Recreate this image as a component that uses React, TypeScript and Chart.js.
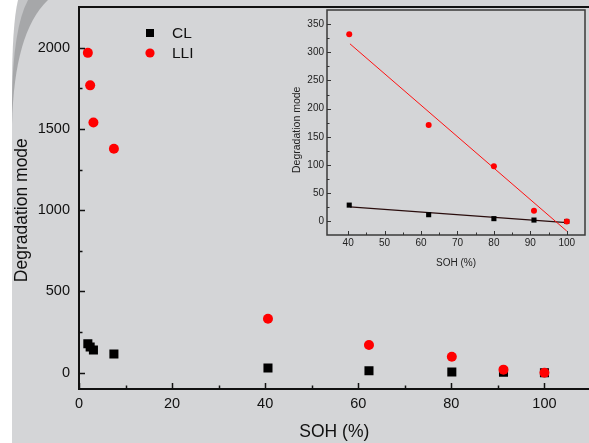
import React, { useEffect, useRef } from 'react';
import { Chart, registerables } from 'chart.js';

Chart.register(...registerables);

// ---- data ----
const soh = [1.9, 2.4, 3.1, 7.5, 40.6, 62.3, 80.1, 91.2, 100];
const clValues = [178, 158, 140, 115, 29, 12, 5, 3, 0];
const lliValues = [1968, 1768, 1540, 1378, 332, 171, 98, 19, 0];

const insetSoh = [40.3, 62.1, 80.0, 91.0, 100];
const insetCl = [29, 12, 5, 2.5, 0];
const insetLli = [332, 171, 98, 19, 0];

const fitSoh = [40.5, 100];
const fitCl = [26, -2];
const fitLli = [315, -17];

const mainXTicks = [0, 20, 40, 60, 80, 100];
const mainYTicks = [0, 500, 1000, 1500, 2000];
const insetXTicks = [40, 50, 60, 70, 80, 90, 100];
const insetYTicks = [0, 50, 100, 150, 200, 250, 300, 350];

const FONT = "'Liberation Sans', Arial, sans-serif";
const BG = '#d4d5d7';

const pts = (xs: number[], ys: number[]) => xs.map((x, i) => ({ x, y: ys[i] }));

const noPad = (s: any) => {
  s.paddingTop = 0;
  s.paddingBottom = 0;
  s.paddingLeft = 0;
  s.paddingRight = 0;
};

const innerTicks = (cfg: { major: number; minor: number; width: number; color: string }) => ({
  id: 'innerTicks',
  afterDraw(chart: any) {
    const { ctx, chartArea } = chart;
    ctx.save();
    ctx.strokeStyle = cfg.color;
    ctx.lineWidth = cfg.width;
    const draw = (scale: any, horizontal: boolean) => {
      const vals = scale.ticks.map((t: any) => t.value);
      const minors: number[] = [];
      for (let i = 0; i < vals.length - 1; i++) minors.push((vals[i] + vals[i + 1]) / 2);
      const seg = (v: number, len: number) => {
        const p = Math.round(scale.getPixelForValue(v)) + 0.5;
        ctx.beginPath();
        if (horizontal) {
          ctx.moveTo(p, chartArea.bottom);
          ctx.lineTo(p, chartArea.bottom - len);
        } else {
          ctx.moveTo(chartArea.left, p);
          ctx.lineTo(chartArea.left + len, p);
        }
        ctx.stroke();
      };
      vals.forEach((v: number) => seg(v, cfg.major));
      minors.forEach((v) => seg(v, cfg.minor));
    };
    draw(chart.scales.x, true);
    draw(chart.scales.y, false);
    ctx.restore();
  },
});

const background = {
  id: 'slideBackground',
  beforeDraw(chart: any) {
    const { ctx, width: w, height: h } = chart;
    ctx.save();
    ctx.fillStyle = '#ffffff';
    ctx.fillRect(0, 0, w, h);
    ctx.fillStyle = '#c4c5c7';
    ctx.beginPath();
    ctx.moveTo(18, 0);
    ctx.quadraticCurveTo(12, 25, 12, 90);
    ctx.lineTo(12, h);
    ctx.lineTo(w, h);
    ctx.lineTo(w, 0);
    ctx.closePath();
    ctx.fill();
    ctx.fillStyle = '#a6a7a9';
    ctx.beginPath();
    ctx.moveTo(28, 0);
    ctx.quadraticCurveTo(13, 28, 12, 100);
    ctx.lineTo(12, h);
    ctx.lineTo(w, h);
    ctx.lineTo(w, 0);
    ctx.closePath();
    ctx.fill();
    ctx.fillStyle = BG;
    ctx.beginPath();
    ctx.moveTo(48, 0);
    ctx.quadraticCurveTo(14, 32, 12, 125);
    ctx.lineTo(12, h);
    ctx.lineTo(w, h);
    ctx.lineTo(w, 0);
    ctx.closePath();
    ctx.fill();
    ctx.restore();
  },
};

const topBorder = {
  id: 'topBorderLine',
  afterDraw(chart: any) {
    const { ctx, chartArea } = chart;
    ctx.save();
    ctx.fillStyle = '#111111';
    ctx.fillRect(chartArea.left - 1, Math.round(chartArea.top) - 1, chartArea.right - chartArea.left + 1, 2);
    ctx.restore();
  },
};

const customLegend = {
  id: 'customLegend',
  afterDraw(chart: any) {
    const { ctx } = chart;
    const x0 = 150;
    const y0 = 33;
    const step = 20;
    ctx.save();
    ctx.font = `15.5px ${FONT}`;
    ctx.textBaseline = 'middle';
    ctx.textAlign = 'left';
    chart.data.datasets.forEach((ds: any, i: number) => {
      const y = y0 + i * step;
      ctx.fillStyle = ds.backgroundColor;
      if (ds.pointStyle === 'rect') {
        ctx.fillRect(x0 - 4, y - 4, 8, 8);
      } else {
        ctx.beginPath();
        ctx.arc(x0, y, 4.6, 0, Math.PI * 2);
        ctx.fill();
      }
      ctx.fillStyle = '#111';
      ctx.fillText(ds.label, x0 + 22, y + 1);
    });
    ctx.restore();
  },
};

const frame = {
  id: 'frame',
  afterDraw(chart: any) {
    const { ctx, chartArea } = chart;
    ctx.save();
    ctx.strokeStyle = '#3a3a3a';
    ctx.lineWidth = 1.5;
    ctx.strokeRect(chartArea.left, chartArea.top, chartArea.right - chartArea.left, chartArea.bottom - chartArea.top);
    ctx.restore();
  },
};

function MainChart() {
  const ref = useRef<HTMLCanvasElement>(null);
  useEffect(() => {
    const chart = new Chart(ref.current!, {
      type: 'scatter',
      data: {
        datasets: [
          {
            label: 'CL',
            data: pts(soh, clValues),
            pointStyle: 'rect',
            pointRadius: 6.4,
            pointHoverRadius: 6.4,
            backgroundColor: '#000000',
            borderWidth: 0,
            order: 2,
          },
          {
            label: 'LLI',
            data: pts(soh, lliValues),
            pointStyle: 'circle',
            pointRadius: 5,
            pointHoverRadius: 5,
            backgroundColor: '#ff0000',
            borderWidth: 0,
            order: 1,
          },
        ],
      },
      options: {
        responsive: false,
        animation: false,
        layout: { padding: { top: 7, right: 0, left: 0, bottom: 0 } },
        plugins: { legend: { display: false }, tooltip: { enabled: false } },
        scales: {
          x: {
            type: 'linear',
            min: 0,
            max: 109.7,
            afterBuildTicks: (s: any) => {
              s.ticks = mainXTicks.map((v) => ({ value: v }));
            },
            afterFit: (s: any) => {
              s.height = 54;
              noPad(s);
            },
            grid: { display: false, drawTicks: false },
            border: { display: true, color: '#111', width: 2 },
            ticks: {
              padding: 6,
              color: '#111',
              font: { family: FONT, size: 14.5 },
              callback: (v: any) => String(v),
              maxRotation: 0,
            },
            title: {
              display: true,
              text: 'SOH (%)',
              color: '#111',
              font: { family: FONT, size: 17.5, lineHeight: 1.2 },
              padding: { top: 0, bottom: 0.5 },
            },
          },
          y: {
            type: 'linear',
            min: -100,
            max: 2250,
            afterBuildTicks: (s: any) => {
              s.ticks = mainYTicks.map((v) => ({ value: v }));
            },
            afterFit: (s: any) => {
              s.width = 79;
              noPad(s);
            },
            grid: { display: false, drawTicks: false },
            border: { display: true, color: '#111', width: 2 },
            ticks: {
              padding: 9,
              color: '#111',
              font: { family: FONT, size: 14.5 },
              callback: (v: any) => String(v),
            },
            title: {
              display: true,
              text: 'Degradation mode     ',
              color: '#111',
              font: { family: FONT, size: 17.5, lineHeight: 1.2 },
              padding: { top: 11.5, bottom: 0 },
            },
          },
        },
      },
      plugins: [background, innerTicks({ major: 6, minor: 3.5, width: 1.5, color: '#111' }), customLegend, topBorder],
    } as any);
    return () => chart.destroy();
  }, []);
  return <canvas ref={ref} width={596} height={443} style={{ position: 'absolute', left: 0, top: 0, display: 'block' }} />;
}

function InsetChart() {
  const ref = useRef<HTMLCanvasElement>(null);
  useEffect(() => {
    const chart = new Chart(ref.current!, {
      type: 'scatter',
      data: {
        datasets: [
          {
            label: 'LLI',
            data: pts(insetSoh, insetLli),
            pointStyle: 'circle',
            pointRadius: 3,
            pointHoverRadius: 3,
            backgroundColor: '#ff0000',
            borderWidth: 0,
            order: 1,
          },
          {
            label: 'CL',
            data: pts(insetSoh, insetCl),
            pointStyle: 'rect',
            pointRadius: 3.6,
            pointHoverRadius: 3.6,
            backgroundColor: '#000000',
            borderWidth: 0,
            order: 2,
          },
          {
            label: 'LLI fit',
            data: pts(fitSoh, fitLli),
            showLine: true,
            pointRadius: 0,
            borderColor: '#ff1010',
            borderWidth: 1,
            order: 3,
          },
          {
            label: 'CL fit',
            data: pts(fitSoh, fitCl),
            showLine: true,
            pointRadius: 0,
            borderColor: '#2a0d0d',
            borderWidth: 1.3,
            order: 4,
          },
        ],
      },
      options: {
        responsive: false,
        animation: false,
        layout: { padding: { top: 10, right: 4, left: 0, bottom: 0 } },
        plugins: { legend: { display: false }, tooltip: { enabled: false } },
        scales: {
          x: {
            type: 'linear',
            min: 34.2,
            max: 105,
            afterBuildTicks: (s: any) => {
              s.ticks = insetXTicks.map((v) => ({ value: v }));
            },
            afterFit: (s: any) => {
              s.height = 40;
              noPad(s);
            },
            grid: { display: false, drawTicks: false },
            border: { display: false },
            ticks: {
              padding: 2.5,
              color: '#222',
              font: { family: FONT, size: 10 },
              callback: (v: any) => String(v),
              maxRotation: 0,
            },
            title: {
              display: true,
              text: 'SOH (%)',
              color: '#222',
              font: { family: FONT, size: 10, lineHeight: 1.2 },
              padding: { top: 0, bottom: 6 },
            },
          },
          y: {
            type: 'linear',
            min: -24,
            max: 375,
            afterBuildTicks: (s: any) => {
              s.ticks = insetYTicks.map((v) => ({ value: v }));
            },
            afterFit: (s: any) => {
              s.width = 47;
              noPad(s);
            },
            grid: { display: false, drawTicks: false },
            border: { display: false },
            ticks: {
              padding: 3,
              color: '#222',
              font: { family: FONT, size: 10 },
              callback: (v: any) => String(v),
            },
            title: {
              display: true,
              text: 'Degradation mode     ',
              color: '#222',
              font: { family: FONT, size: 10.5, lineHeight: 1.2 },
              padding: { top: 11, bottom: 0 },
            },
          },
        },
      },
      plugins: [frame, innerTicks({ major: 4, minor: 2.5, width: 1, color: '#333' })],
    } as any);
    return () => chart.destroy();
  }, []);
  return <canvas ref={ref} width={309} height={275} style={{ position: 'absolute', left: 280, top: 0, display: 'block' }} />;
}

export default function App() {
  return (
    <div style={{ position: 'fixed', left: 0, top: 0, width: 589, height: 443, overflow: 'hidden', background: BG }}>
      <MainChart />
      <InsetChart />
    </div>
  );
}
